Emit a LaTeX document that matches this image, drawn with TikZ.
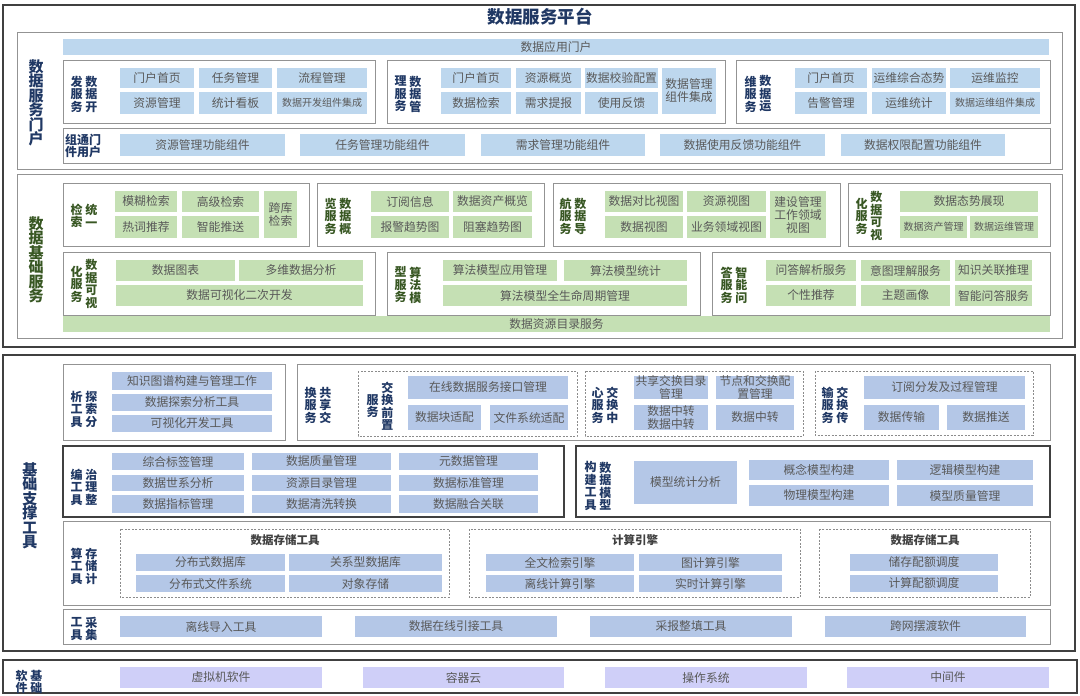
\documentclass[tikz,border=0pt]{standalone}
\usepackage{fontspec}
\setmainfont{Noto Sans CJK SC}
\usepackage{tikz}
\usetikzlibrary{positioning}
\definecolor{navy}{HTML}{203864}
\definecolor{labgreen}{HTML}{385723}
\definecolor{portalblue}{HTML}{BDD7EE}
\definecolor{basegreen}{HTML}{C5E0B4}
\definecolor{toolblue}{HTML}{B4C7E7}
\definecolor{softpurple}{HTML}{CFCFF8}
\definecolor{txtgray}{HTML}{595959}
\tikzset{
  bcell/.style={fill=portalblue},
  gcell/.style={fill=basegreen},
  scell/.style={fill=toolblue},
  pcell/.style={fill=softpurple},
  celltxt/.style={text=txtgray, font=\fontsize{11.8}{13}\selectfont, align=center, inner sep=0pt},
  frame/.style={draw=gray!85, line width=0.9pt},
  darkframe/.style={draw=black!75, line width=1.2pt},
  outer/.style={draw=black!75, line width=2pt},
  dashbox/.style={draw=gray!90, dash pattern=on 2pt off 1.5pt, line width=0.7pt},
  lab/.style={text=navy, font=\fontsize{12}{12.5}\selectfont\bfseries, align=center, inner sep=0pt},
  glab/.style={lab, text=labgreen},
  biglab/.style={lab, font=\fontsize{15}{14.5}\selectfont\bfseries},
  dhead/.style={text=black!75, font=\fontsize{11.5}{12}\selectfont\bfseries, inner sep=0pt},
}
\newcommand{\smtxt}{\fontsize{10}{10}\selectfont}
% cell: [style]{name}{corner}{corner}{text}
\newcommand{\boxcell}[5][bcell]{\path[#1] (#3) rectangle (#4) node[midway, celltxt] (#2) {#5};}
% two columns of characters side by side
\newcommand{\sidelabel}[5][lab]{%
  \node[#1, anchor=east] (#2l) at ([xshift=-1.2pt]#3) {#4};
  \node[#1, anchor=west] (#2r) at ([xshift=1.2pt]#3) {#5};}

\begin{document}
\begin{tikzpicture}[x=1pt, y=-1pt]
\useasboundingbox (0,0) rectangle (1080,696);

%% ---------- 数据服务平台 ----------
\draw[outer] (3,5) rectangle (1075,347);
\node[lab, font=\fontsize{17.5}{17.5}\selectfont\bfseries] (title) at (540,17) {数据服务平台};

% 数据服务门户
\draw[frame] (17,32) rectangle (1062,169);
\node[biglab] (portal) at (36,103) {数\\据\\服\\务\\门\\户};
\boxcell{appbar}{63,39}{1049,55}{数据应用门户}

\draw[frame] (63,60) rectangle (375,123);
\sidelabel{dev}{84,94}{发\\服\\务}{数\\据\\开}
\boxcell{dev1}{120,68}{194,88}{门户首页}
\boxcell{dev2}{199,68}{272,88}{任务管理}
\boxcell{dev3}{277,68}{367,88}{流程管理}
\boxcell{dev4}{120,92}{194,114}{资源管理}
\boxcell{dev5}{199,92}{272,114}{统计看板}
\boxcell{dev6}{277,92}{367,114}{\smtxt 数据开发组件集成}

\draw[frame] (387,60) rectangle (725,123);
\sidelabel{mgt}{408,94}{理\\服\\务}{数\\据\\管}
\boxcell{mgt1}{441,68}{511,88}{门户首页}
\boxcell{mgt2}{516,68}{581,88}{资源概览}
\boxcell{mgt3}{585,68}{658,88}{数据校验配置}
\boxcell{mgt4}{441,92}{511,114}{数据检索}
\boxcell{mgt5}{516,92}{581,114}{需求提报}
\boxcell{mgt6}{585,92}{658,114}{使用反馈}
\boxcell{mgt7}{662,68}{716,114}{数据管理\\组件集成}

\draw[frame] (736,60) rectangle (1050,123);
\sidelabel{ops}{758,94}{维\\服\\务}{数\\据\\运}
\boxcell{ops1}{795,68}{867,88}{门户首页}
\boxcell{ops2}{872,68}{946,88}{运维综合态势}
\boxcell{ops3}{950,68}{1040,88}{运维监控}
\boxcell{ops4}{795,92}{867,114}{告警管理}
\boxcell{ops5}{872,92}{946,114}{运维统计}
\boxcell{ops6}{950,92}{1040,114}{\smtxt 数据运维组件集成}

\draw[frame] (63,128) rectangle (1050,163);
\node[lab] (comp) at (83,146) {组通门\\件用户};
\boxcell{comp1}{120,134}{285,156}{资源管理功能组件}
\boxcell{comp2}{300,134}{465,156}{任务管理功能组件}
\boxcell{comp3}{481,134}{645,156}{需求管理功能组件}
\boxcell{comp4}{660,134}{825,156}{数据使用反馈功能组件}
\boxcell{comp5}{841,134}{1005,156}{数据权限配置功能组件}

% 数据基础服务
\draw[frame] (17,174) rectangle (1062,338);
\node[biglab, text=labgreen] (base) at (36,260) {数\\据\\基\\础\\服\\务};

\draw[frame] (63,183) rectangle (309,246);
\sidelabel[glab]{srch}{84,216}{检\\索}{统\\一}
\boxcell[gcell]{srch1}{115,191}{177,212}{模糊检索}
\boxcell[gcell]{srch2}{182,191}{259,212}{高级检索}
\boxcell[gcell]{srch3}{115,216}{177,238}{热词推荐}
\boxcell[gcell]{srch4}{182,216}{259,238}{智能推送}
\boxcell[gcell]{srch5}{264,191}{297,238}{跨库\\检索}

\draw[frame] (317,183) rectangle (544,246);
\sidelabel[glab]{view}{338,216}{览\\服\\务}{数\\据\\概}
\boxcell[gcell]{view1}{371,191}{449,212}{订阅信息}
\boxcell[gcell]{view2}{453,191}{532,212}{数据资产概览}
\boxcell[gcell]{view3}{371,216}{449,238}{报警趋势图}
\boxcell[gcell]{view4}{453,216}{532,238}{阻塞趋势图}

\draw[frame] (553,183) rectangle (840,246);
\sidelabel[glab]{nav}{573,216}{航\\服\\务}{数\\据\\导}
\boxcell[gcell]{nav1}{605,191}{683,212}{数据对比视图}
\boxcell[gcell]{nav2}{687,191}{766,212}{资源视图}
\boxcell[gcell]{nav3}{605,216}{683,238}{数据视图}
\boxcell[gcell]{nav4}{687,216}{766,238}{业务领域视图}
\boxcell[gcell]{nav5}{770,191}{826,238}{建设管理\\工作领域\\视图}

\draw[frame] (848,183) rectangle (1050,246);
\sidelabel[glab]{vis}{869,216}{化\\服\\务}{数\\据\\可\\视}
\boxcell[gcell]{vis1}{900,191}{1038,212}{数据态势展现}
\boxcell[gcell]{vis2}{900,216}{967,238}{\smtxt 数据资产管理}
\boxcell[gcell]{vis3}{970,216}{1038,238}{\smtxt 数据运维管理}

\draw[frame] (63,252) rectangle (375,315);
\sidelabel[glab]{chart}{84,284}{化\\服\\务}{数\\据\\可\\视}
\boxcell[gcell]{chart1}{116,260}{235,281}{数据图表}
\boxcell[gcell]{chart2}{239,260}{363,281}{多维数据分析}
\boxcell[gcell]{chart3}{116,285}{363,306}{数据可视化二次开发}

\draw[frame] (387,252) rectangle (700,315);
\sidelabel[glab]{algo}{408,285}{型\\服\\务}{算\\法\\模}
\boxcell[gcell]{algo1}{443,260}{557,281}{算法模型应用管理}
\boxcell[gcell]{algo2}{564,260}{687,281}{算法模型统计}
\boxcell[gcell]{algo3}{443,285}{687,306}{算法模型全生命周期管理}

\draw[frame] (712,252) rectangle (1050,315);
\sidelabel[glab]{qa}{734,285}{答\\服\\务}{智\\能\\问}
\boxcell[gcell]{qa1}{766,260}{856,281}{问答解析服务}
\boxcell[gcell]{qa2}{861,260}{950,281}{意图理解服务}
\boxcell[gcell]{qa3}{955,260}{1032,281}{知识关联推理}
\boxcell[gcell]{qa4}{766,285}{856,306}{个性推荐}
\boxcell[gcell]{qa5}{861,285}{950,306}{主题画像}
\boxcell[gcell]{qa6}{955,285}{1032,306}{智能问答服务}

\boxcell[gcell]{catbar}{63,316}{1050,332}{数据资源目录服务}

%% ---------- 基础支撑工具 ----------
\draw[outer] (3,355) rectangle (1075,651);
\node[biglab] (tools) at (30,506) {基\\础\\支\\撑\\工\\具};

\draw[frame] (63,364) rectangle (285,440);
\sidelabel{expl}{84,409}{析\\工\\具}{探\\索\\分}
\boxcell[scell]{expl1}{112,372}{272,390}{知识图谱构建与管理工作}
\boxcell[scell]{expl2}{112,394}{272,411}{数据探索分析工具}
\boxcell[scell]{expl3}{112,415}{272,432}{可视化开发工具}

\draw[frame] (297,364) rectangle (1050,440);
\sidelabel{xchg}{318,405}{换\\服\\务}{共\\享\\交}
\draw[dashbox] (358,371) rectangle (577,436);
\sidelabel{front}{380,406}{服\\务}{交\\换\\前\\置}
\boxcell[scell]{front1}{408,376}{568,399}{在线数据服务接口管理}
\boxcell[scell]{front2}{408,405}{481,430}{数据块适配}
\boxcell[scell]{front3}{490,405}{568,430}{文件系统适配}
\draw[dashbox] (585,371) rectangle (803,436);
\sidelabel{hub}{605,405}{心\\服\\务}{交\\换\\中}
\boxcell[scell]{hub1}{634,376}{708,399}{共享交换目录\\管理}
\boxcell[scell]{hub2}{716,376}{794,399}{节点和交换配\\置管理}
\boxcell[scell]{hub3}{634,405}{708,430}{数据中转\\数据中转}
\boxcell[scell]{hub4}{716,405}{794,430}{数据中转}
\draw[dashbox] (815,371) rectangle (1033,435);
\sidelabel{trans}{835,405}{输\\服\\务}{交\\换\\传}
\boxcell[scell]{trans1}{864,376}{1025,399}{订阅分发及过程管理}
\boxcell[scell]{trans2}{864,405}{939,430}{数据传输}
\boxcell[scell]{trans3}{947,405}{1025,430}{数据推送}

\draw[darkframe] (63,446) rectangle (564,517);
\sidelabel{gov}{84,487}{编\\工\\具}{治\\理\\整}
\boxcell[scell]{gov1}{112,453}{244,470}{综合标签管理}
\boxcell[scell]{gov2}{112,475}{244,491}{数据世系分析}
\boxcell[scell]{gov3}{112,495}{244,513}{数据指标管理}
\boxcell[scell]{gov4}{252,453}{391,470}{数据质量管理}
\boxcell[scell]{gov5}{252,475}{391,491}{资源目录管理}
\boxcell[scell]{gov6}{252,495}{391,513}{数据清洗转换}
\boxcell[scell]{gov7}{399,453}{538,470}{元数据管理}
\boxcell[scell]{gov8}{399,475}{538,491}{数据标准管理}
\boxcell[scell]{gov9}{399,495}{538,513}{数据融合关联}

\draw[darkframe] (576,446) rectangle (1050,517);
\sidelabel{model}{598,486}{构\\建\\工\\具}{数\\据\\模\\型}
\boxcell[scell]{model1}{634,461}{737,504}{模型统计分析}
\boxcell[scell]{model2}{749,460}{889,480}{概念模型构建}
\boxcell[scell]{model3}{749,485}{889,506}{物理模型构建}
\boxcell[scell]{model4}{897,460}{1033,480}{逻辑模型构建}
\boxcell[scell]{model5}{897,485}{1033,506}{模型质量管理}

\draw[frame] (63,521) rectangle (1050,605);
\sidelabel{stor}{84,566}{算\\工\\具}{存\\储\\计}
\draw[dashbox] (120,529) rectangle (449,597);
\node[dhead] (storh) at (285,540) {数据存储工具};
\boxcell[scell]{stor1}{136,554}{285,571}{分布式数据库}
\boxcell[scell]{stor2}{289,554}{442,571}{关系型数据库}
\boxcell[scell]{stor3}{136,575}{285,592}{分布式文件系统}
\boxcell[scell]{stor4}{289,575}{442,592}{对象存储}
\draw[dashbox] (469,529) rectangle (800,597);
\node[dhead] (engh) at (635,540) {计算引擎};
\boxcell[scell]{eng1}{486,554}{634,571}{全文检索引擎}
\boxcell[scell]{eng2}{639,554}{782,571}{图计算引擎}
\boxcell[scell]{eng3}{486,575}{634,592}{离线计算引擎}
\boxcell[scell]{eng4}{639,575}{782,592}{实时计算引擎}
\draw[dashbox] (819,529) rectangle (1030,597);
\node[dhead] (quoh) at (925,540) {数据存储工具};
\boxcell[scell]{quo1}{850,554}{998,571}{储存配额调度}
\boxcell[scell]{quo2}{850,575}{998,592}{计算配额调度}

\draw[frame] (63,609) rectangle (1050,644);
\sidelabel{coll}{84,629}{工\\具}{采\\集}
\boxcell[scell]{coll1}{120,616}{322,637}{离线导入工具}
\boxcell[scell]{coll2}{355,616}{557,637}{数据在线引接工具}
\boxcell[scell]{coll3}{590,616}{792,637}{采报整填工具}
\boxcell[scell]{coll4}{825,616}{1026,637}{跨网摆渡软件}

%% ---------- 基础软件 ----------
\draw[outer] (3,660) rectangle (1077,693);
\sidelabel{soft}{29,682}{软\\件}{基\\础}
\boxcell[pcell]{soft1}{120,667}{322,688}{虚拟机软件}
\boxcell[pcell]{soft2}{363,667}{564,688}{容器云}
\boxcell[pcell]{soft3}{605,667}{807,688}{操作系统}
\boxcell[pcell]{soft4}{847,667}{1049,688}{中间件}
\end{tikzpicture}
\end{document}
